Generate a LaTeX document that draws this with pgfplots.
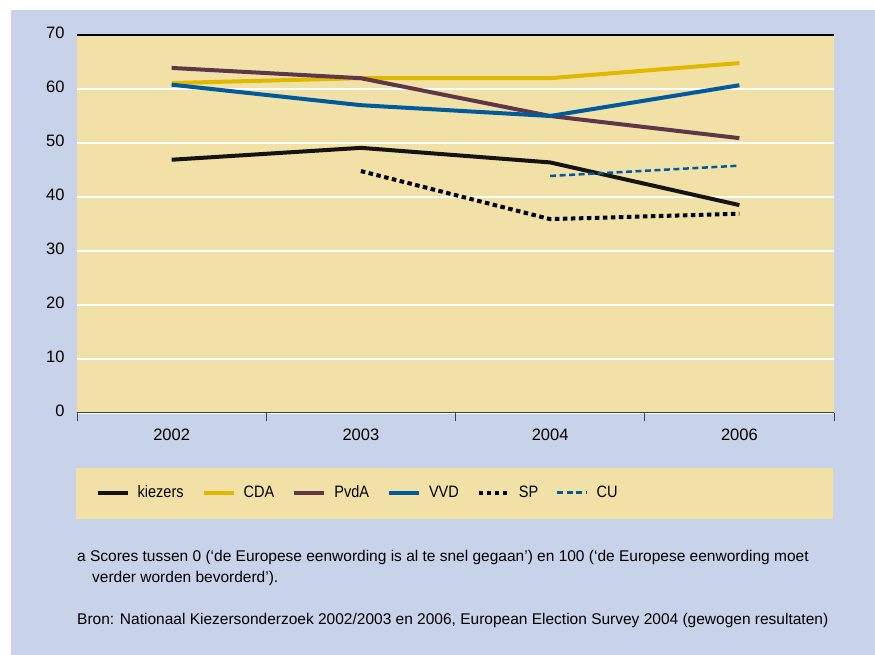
\documentclass[border=0pt]{standalone}
\usepackage{fontspec}
\setmainfont{Liberation Sans}
\newfontfamily\condfont{Liberation Sans}[FakeStretch=0.88]
\usepackage{pgfplots}
\pgfplotsset{compat=1.18}
\definecolor{bgblue}{RGB}{200,211,233}
\definecolor{plotyellow}{RGB}{242,225,166}
\definecolor{cdagold}{RGB}{224,184,0}
\definecolor{pvdapurple}{RGB}{94,55,72}
\definecolor{vvdblue}{RGB}{0,90,156}
\definecolor{kiezblack}{RGB}{20,20,20}

\begin{document}
\begin{tikzpicture}
	% page background and legend panel
	\useasboundingbox (0pt,0pt) rectangle (875pt,655pt);
	\fill[white] (0pt,0pt) rectangle (875pt,655pt);
	\fill[bgblue] (11pt,0pt) rectangle (875pt,645pt);
	\fill[plotyellow] (75.5pt,136pt) rectangle (833pt,187pt);
	\begin{axis}[
		at={(77pt,242pt)},
		anchor=south west,
		scale only axis,
		width=757pt,
		height=378pt,
		xmin=0, xmax=4,
		ymin=0, ymax=70,
		axis background/.style={fill=plotyellow},
		axis line style={draw=none},
		xtick={0,1,2,3,4},
		xticklabels={2002,2003,2004,2006},
		x tick label as interval,
		xtick pos=left,
		tick align=outside,
		major tick length=8pt,
		xtick style={draw=black!75, line width=0.9pt},
		ytick={0,10,...,70},
		ytick style={draw=none},
		ymajorgrids=true,
		grid style={white, line width=1.5pt},
		tick label style={font=\fontsize{16.5}{19}\selectfont},
		yticklabel style={xshift=-1pt, yshift=2pt},
		xticklabel style={yshift=-4pt},
		/pgf/number format/assume math mode=true,
		legend columns=6,
		legend image code/.code={\draw[#1] (0pt,0pt) -- (30pt,0pt);},
		legend style={
			draw=none, fill=none,
			at={(axis description cs:0.0244,-0.2108)},
			anchor=west,
			inner sep=0pt,
			font=\condfont\fontsize{16.5}{19}\selectfont,
			/tikz/every odd column/.append style={column sep=6pt},
			/tikz/every even column/.append style={column sep=16pt},
		},
	]
	\addplot[kiezblack, line width=4pt] coordinates {
		(0.5, 46.9) (1.5, 49.1) (2.5, 46.4) (3.5, 38.5)
	};
	\addlegendentry{kiezers}
	\addplot[cdagold, line width=4pt] coordinates {
		(0.5, 61.1) (1.5, 62.0) (2.5, 62.0) (3.5, 64.8)
	};
	\addlegendentry{CDA}
	\addplot[pvdapurple, line width=4pt] coordinates {
		(0.5, 63.9) (1.5, 62.0) (2.5, 55.0) (3.5, 50.9)
	};
	\addlegendentry{PvdA}
	\addplot[vvdblue, line width=4pt] coordinates {
		(0.5, 60.8) (1.5, 57.0) (2.5, 55.0) (3.5, 60.7)
	};
	\addlegendentry{VVD}
	\addplot[black, line width=4pt, dash pattern=on 4.5pt off 3.5pt] coordinates {
		(1.5, 44.8) (2.5, 35.9) (3.5, 36.9)
	};
	\addlegendentry{SP}
	\addplot[vvdblue, line width=2.5pt, dash pattern=on 6pt off 3.5pt] coordinates {
		(2.5, 43.9) (3.5, 45.8)
	};
	\addlegendentry{CU}
	% frame lines
	\draw[black, line width=1.3pt] (rel axis cs:0,1) -- (rel axis cs:1,1);
	\draw[black!75, line width=1pt] (rel axis cs:0,0) -- (rel axis cs:1,0);
	\end{axis}
	% notes
	\begin{scope}[every node/.style={anchor=base west, inner sep=0pt, font=\fontsize{15.5}{18}\selectfont}]
	\node at (77pt,93pt) {a Scores tussen 0 (‘de Europese eenwording is al te snel gegaan’) en 100 (‘de Europese eenwording moet};
	\node at (92pt,72pt) {verder worden bevorderd’).};
	\node at (77pt,30pt) {Bron: Nationaal Kiezersonderzoek 2002/2003 en 2006, European Election Survey 2004 (gewogen resultaten)};
	\end{scope}
\end{tikzpicture}
\end{document}
